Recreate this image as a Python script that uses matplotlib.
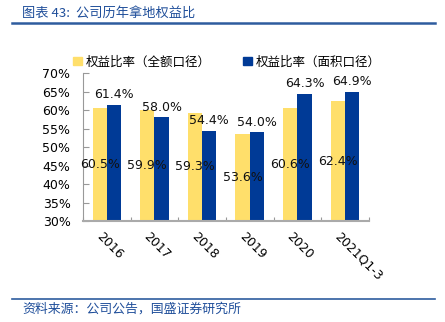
import matplotlib
matplotlib.use("Agg")
import matplotlib.pyplot as plt
import numpy as np
from matplotlib.lines import Line2D
from matplotlib.patches import Patch

plt.rcParams['font.family'] = ['DejaVu Sans', 'Noto Sans CJK SC']

categories = ["2016", "2017", "2018", "2019", "2020", "2021Q1-3"]
full_ratio = [60.5, 59.9, 59.3, 53.6, 60.6, 62.4]
area_ratio = [61.4, 58.0, 54.4, 54.0, 64.3, 64.9]
series_names = ["权益比率（全额口径）", "权益比率（面积口径）"]
yticks = [30, 35, 40, 45, 50, 55, 60, 65, 70]
title = "图表 43:  公司历年拿地权益比"
source = "资料来源：公司公告，国盛证券研究所"

c_yellow = "#FFDF6B"
c_blue = "#003A96"
c_text_blue = "#1F4E9A"
cjk = ['Noto Sans CJK SC', 'DejaVu Sans']

fig = plt.figure(figsize=(4.45, 3.22), dpi=100)
ax = fig.add_axes([0.1865, 0.3137, 0.6425, 0.4593])

x = np.arange(len(categories))
w = 0.3
base = 30
ax.bar(x - w / 2, np.array(full_ratio) - base, w, bottom=base, color=c_yellow, zorder=2)
ax.bar(x + w / 2, np.array(area_ratio) - base, w, bottom=base, color=c_blue, zorder=2)

for xi, v in zip(x, full_ratio):
    ax.text(xi - w / 2, (base + v) / 2, f"{v:.1f}%", ha='center', va='center', fontsize=9, color='#111111', zorder=3)
for xi, v in zip(x, area_ratio):
    ax.text(xi + w / 2, v + 1.0, f"{v:.1f}%", ha='center', va='bottom', fontsize=9, color='#111111', zorder=3)

ax.set_xlim(-0.5, len(categories) - 0.5)
ax.set_ylim(30, 70)
ax.set_yticks(yticks)
ax.set_yticklabels([f"{t}%" for t in yticks], fontsize=9)
ax.set_xticks(np.arange(len(categories) + 1) - 0.5, minor=False)
ax.set_xticklabels([])
ax.tick_params(axis='x', direction='in', length=3, color='#999999')
ax.tick_params(axis='y', direction='in', length=4, color='#999999', pad=9)
for xi, c in zip(x, categories):
    ax.text(xi - 0.08, 27.6, c, rotation=-45, ha='left', va='top', rotation_mode='anchor', fontsize=9)

for s in ['top', 'right']:
    ax.spines[s].set_visible(False)
ax.spines['left'].set_color('#999999')
ax.spines['bottom'].set_color('#aaaaaa')
ax.spines['bottom'].set_linewidth(1.5)

handles = [Patch(color=c_yellow), Patch(color=c_blue)]
fig.legend(handles, series_names, loc='center', bbox_to_anchor=(0.51, 0.808), ncol=2,
           frameon=False, prop={'family': cjk, 'size': 9}, handlelength=0.7, handleheight=0.7,
           handletextpad=0.3, columnspacing=2.6)

fig.text(0.05, 0.958, title, fontsize=9.5, color=c_text_blue, family=cjk, va='center', style='italic')
fig.add_artist(Line2D([0.027, 0.978], [0.928, 0.928], color='#2E5C9E', lw=1.8, transform=fig.transFigure))
fig.add_artist(Line2D([0.027, 0.978], [0.071, 0.071], color='#2E5C9E', lw=1.2, transform=fig.transFigure))
fig.text(0.05, 0.040, source, fontsize=9.3, color=c_text_blue, family=cjk, va='center', style='italic')

fig.savefig("out.png", dpi=100)
